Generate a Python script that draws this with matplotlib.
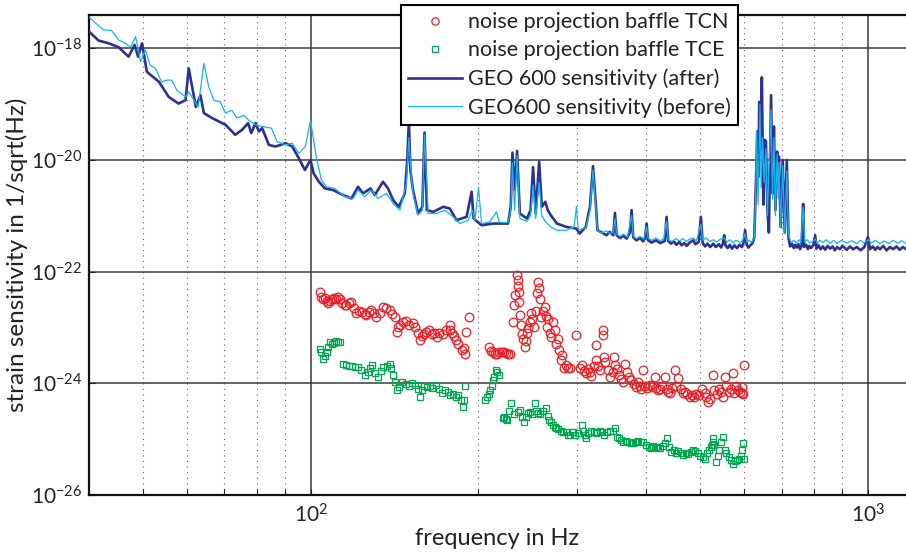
import numpy as np
import matplotlib
matplotlib.use("Agg")
import matplotlib.pyplot as plt
from matplotlib.ticker import FixedLocator, LogFormatterSciNotation, NullFormatter

plt.rcParams['font.family'] = ['Lato', 'DejaVu Sans']
plt.rcParams['mathtext.fontset'] = 'custom'
plt.rcParams['mathtext.rm'] = 'Lato'
plt.rcParams['mathtext.it'] = 'Lato'
plt.rcParams['axes.unicode_minus'] = False

# ---------------- data: (frequency in Hz, log10 of strain sensitivity in 1/sqrt(Hz)) ----------
after_points = [
    (40, -17.70), (41.6, -17.86), (43.4, -17.91), (45.2, -17.98), (47.1, -18.15), (48.3, -17.94),
    (49.0, -18.15), (49.8, -17.91), (50.8, -18.42), (53.4, -18.60), (55.6, -18.87), (57.9, -18.99),
    (59.6, -18.93), (60.4, -18.36), (61.4, -18.75), (62.2, -19.05), (63.4, -18.84), (64.3, -19.16),
    (66.5, -19.25), (70.3, -19.37), (73.2, -19.55), (75.3, -19.46), (77.2, -19.34), (78.2, -19.52),
    (79.6, -19.34), (80.7, -19.49), (81.8, -19.43), (84.1, -19.73), (86.4, -19.76), (90.1, -19.70),
    (92.6, -19.76), (95.2, -19.97), (97.6, -20.18), (99.9, -20.00), (101.2, -20.24), (103.4, -20.39),
    (106, -20.51), (109.7, -20.54), (114.3, -20.63), (118.3, -20.69), (121.6, -20.48), (124.1, -20.60),
    (128, -20.51), (130.3, -20.63), (134.8, -20.39), (137.6, -20.51), (140.6, -20.72), (143.9, -20.84),
    (147.5, -20.60), (149, -20.0), (150, -19.30), (151, -20.2), (152.6, -20.54), (155.8, -20.96),
    (158.6, -20.84), (160, -19.51), (161.6, -20.90), (165.9, -20.93), (172.9, -20.84), (177.6, -20.87),
    (182.6, -21.08), (190.4, -21.02), (194.4, -20.57), (196, -21.05), (202.5, -21.17), (212.5, -21.14),
    (218.3, -21.14), (226, -21.14), (228.5, -20.84), (230.1, -19.87), (232.2, -20.54), (234.6, -19.84),
    (237.3, -20.96), (244.3, -21.05), (248, -20.90), (250.6, -20.13), (253.3, -20.96), (257, -20.03),
    (259.8, -20.84), (263.6, -20.75), (266.3, -20.90), (269.6, -20.99), (276.6, -21.14), (287.6, -21.20),
    (299.7, -21.23), (303.7, -21.32), (311.6, -21.20), (317, -20.84), (321, -20.11), (325, -20.84),
    (327, -21.26), (333, -21.30), (339.2, -21.35), (344, -21.29), (349, -21.35), (351.5, -20.95),
    (354, -21.35), (359, -21.40), (364, -21.36), (369, -21.41), (374, -21.30), (376.5, -20.90),
    (379, -21.38), (384, -21.44), (390, -21.40), (395, -21.46), (398, -21.40), (400.6, -21.14),
    (403, -21.44), (409, -21.48), (416.4, -21.44), (424, -21.49), (432, -21.45), (435, -21.02),
    (438, -21.45), (443, -21.50), (448, -21.46), (453, -21.52), (458.8, -21.47), (463, -21.53),
    (468, -21.49), (473, -21.54), (478.6, -21.48), (485.8, -21.44), (490, -21.51), (497, -21.47),
    (501.3, -21.02), (505, -21.49), (510, -21.55), (515, -21.50), (521, -21.56), (527.7, -21.50),
    (533, -21.56), (540, -21.51), (545, -21.57), (549, -21.50), (552, -21.35), (555, -21.53),
    (560, -21.58), (565, -21.52), (570, -21.59), (576, -21.53), (582, -21.58), (588, -21.52),
    (594, -21.56), (598, -21.48), (602, -21.26), (606, -21.52), (610, -21.57), (615, -21.53),
    (620, -21.50), (625, -21.40), (629, -20.5), (633, -19.49), (636, -20.3), (638, -18.96),
    (641, -19.8), (645, -18.52), (649, -20.8), (653, -19.64), (656, -19.67), (660, -20.9),
    (664, -21.3), (670, -18.84), (674, -20.6), (678, -19.40), (682, -20.9), (687, -19.85),
    (690, -20.5), (692, -19.94), (697, -21.2), (703, -20.00), (709, -21.3), (715, -20.00),
    (720, -21.40), (725, -21.55), (730, -21.50), (736, -21.58), (740, -21.52), (745, -21.57),
    (750, -21.51), (755, -21.60), (760, -21.54), (765, -20.79), (768, -21.56), (775, -21.52),
    (780, -21.60), (785, -21.54), (790, -21.58), (797.6, -21.53), (804, -21.35), (808, -21.59),
    (815, -21.53), (822, -21.60), (830, -21.55), (838, -21.61), (846, -21.54), (855, -21.59),
    (864, -21.55), (872, -21.62), (880, -21.56), (890, -21.60), (900, -21.54), (916, -21.61),
    (928, -21.55), (940, -21.60), (955, -21.56), (970, -21.62), (985, -21.56), (1000, -21.38),
    (1008, -21.60), (1020, -21.55), (1030, -21.61), (1040, -21.56), (1051, -21.60), (1065, -21.54),
    (1080, -21.62), (1095, -21.56), (1110, -21.60), (1125, -21.55), (1140, -21.61), (1155, -21.56),
    (1167, -21.59)]

before_points = [
    (40, -17.44), (41.1, -17.55), (42.5, -17.67), (43.9, -17.68), (45.2, -17.85), (46.5, -17.91),
    (47.5, -17.98), (48.5, -17.79), (49.5, -18.24), (50.5, -18.03), (51.5, -18.30), (52.6, -18.36),
    (54, -18.60), (55.2, -18.57), (56.3, -18.57), (57.5, -18.75), (59.6, -18.87), (60.4, -18.78),
    (61.7, -18.93), (62.8, -19.05), (64.3, -18.27), (65.6, -18.69), (67, -18.93), (68.8, -18.96),
    (70.3, -19.16), (72.2, -19.11), (73.7, -19.25), (75.8, -19.20), (77.4, -19.29), (79.6, -19.37),
    (81.8, -19.40), (85, -19.43), (87, -19.67), (90.1, -19.73), (92.6, -19.70), (95.2, -19.88),
    (97.8, -19.76), (99.9, -19.29), (102.4, -19.97), (104.5, -20.36), (106.7, -20.48), (110.4, -20.51),
    (115.1, -20.66), (119.1, -20.69), (121.6, -20.54), (125, -20.66), (128.5, -20.54), (132, -20.69),
    (136.7, -20.60), (140.6, -20.78), (144.5, -20.90), (148.5, -20.42), (150, -19.60), (151.5, -20.3),
    (153, -20.66), (155.8, -20.99), (158.6, -20.90), (160, -19.55), (162.5, -20.96), (168.2, -20.96),
    (174, -20.90), (180.1, -21.02), (185.2, -21.14), (191.7, -21.08), (195, -20.90), (197, -21.10),
    (200, -20.49), (202.5, -21.14), (209.6, -21.11), (215.4, -20.93), (218, -21.12), (226, -21.12),
    (228.5, -20.9), (230.1, -20.05), (232.2, -20.9), (234.6, -19.92), (237.3, -21.05), (244.3, -21.1),
    (248, -21.0), (250.6, -20.45), (253.3, -21.05), (257, -20.40), (259.8, -21.0), (263.6, -21.1),
    (269.6, -21.2), (276.6, -21.26), (287.6, -21.26), (297, -21.2), (299.7, -20.84), (302, -21.25),
    (311.6, -21.22), (317, -20.9), (321, -20.18), (325, -20.9), (327, -21.26), (333, -21.31),
    (339.2, -21.27), (344, -21.32), (349, -21.30), (351.5, -21.05), (354, -21.33), (359, -21.37),
    (364, -21.33), (370, -21.38), (376.5, -21.00), (379, -21.36), (384, -21.41), (390, -21.37),
    (396, -21.42), (400.6, -21.20), (403, -21.40), (409, -21.44), (416.4, -21.40), (424, -21.45),
    (430, -21.41), (435, -21.10), (438, -21.43), (445, -21.46), (452, -21.41), (458.8, -21.45),
    (466, -21.41), (472, -21.46), (478.6, -21.42), (485.8, -21.40), (492, -21.45), (501.3, -21.15),
    (505, -21.44), (512, -21.40), (520, -21.46), (527.7, -21.43), (535, -21.47), (543, -21.42),
    (552, -21.40), (558, -21.47), (565, -21.43), (573, -21.49), (580, -21.44), (590, -21.48),
    (596, -21.44), (602, -21.32), (606, -21.47), (612, -21.44), (618, -21.48), (625, -21.40),
    (629, -20.6), (631, -19.49), (635, -20.8), (640, -19.00), (643, -20.5), (647, -19.6),
    (651, -20.4), (656, -19.8), (660, -21.0), (664, -20.2), (670, -19.10), (674, -20.7),
    (678, -19.60), (682, -21.0), (687, -19.9), (690, -20.7), (692, -20.05), (697, -21.2),
    (703, -20.10), (709, -21.3), (715, -20.2), (720, -21.35), (728, -21.48), (736, -21.44),
    (745, -21.49), (752, -21.43), (758, -21.48), (765, -20.85), (770, -21.47), (778, -21.43),
    (786, -21.49), (797.6, -21.45), (804, -21.42), (812, -21.49), (820, -21.44), (830, -21.48),
    (842, -21.43), (855, -21.49), (868, -21.44), (880, -21.50), (895, -21.44), (916, -21.49),
    (935, -21.45), (955, -21.50), (970, -21.44), (985, -21.49), (1000, -21.43), (1015, -21.49),
    (1030, -21.44), (1051, -21.50), (1070, -21.45), (1090, -21.50), (1110, -21.44), (1130, -21.49),
    (1150, -21.45), (1167, -21.49)]

tcn_freq = [103.8, 104.5, 105.2, 106, 106.8, 107.5, 108.2, 109, 110, 111, 112, 113, 114, 115,
            115.9, 117, 118.3, 119.5, 120.8, 122, 123.5, 125, 125.9, 127, 128.5, 130, 131.2, 133,
            134.8, 136.5, 138.6, 140, 141.5, 142.6, 143.5, 144.5, 146.4, 148, 150, 152.6, 154,
            155.5, 157, 158.5, 160, 161.3, 163, 165, 166.5, 168.2, 170, 172.9, 175, 177.6, 177.8,
            179.5, 181, 182.5, 184, 186.5, 188, 189.1, 190, 192.5, 209, 210.5, 212, 214, 216, 218,
            220, 222, 224, 226, 228, 231, 232, 233, 234.6, 235, 235.5, 236, 236.5, 237, 238, 239,
            240, 242, 243, 244, 245, 247, 248.5, 250, 252, 253.5, 255, 255.8, 256.5, 258, 259,
            261, 263, 264, 265, 267, 268.5, 270, 272, 274, 276, 278, 279, 281, 283, 285, 287, 289,
            292, 299.8, 304, 306.7, 309, 312, 314, 316.7, 319, 322, 325.6, 325.6, 328, 331, 334.9,
            334.9, 336, 338, 341, 345, 348, 350, 352, 355, 358, 361, 364, 367, 370, 373, 376, 380,
            383.7, 387, 390, 392, 395, 398, 402, 406, 410, 414, 417, 420, 423, 427, 432, 435, 438,
            442, 445, 450, 453, 457, 461, 466, 470, 474, 478.6, 483, 487, 492, 498, 503, 510, 513,
            517, 521, 527.6, 530, 535, 540, 545, 550, 553, 557, 562, 567, 573, 575, 580, 585, 590,
            594, 594, 596, 599]
tcn_log10 = [-22.36, -22.45, -22.50, -22.47, -22.53, -22.56, -22.52, -22.50, -22.47, -22.49,
             -22.45, -22.50, -22.56, -22.60, -22.60, -22.57, -22.54, -22.65, -22.75, -22.70,
             -22.72, -22.76, -22.78, -22.72, -22.68, -22.74, -22.81, -22.75, -22.63, -22.66,
             -22.69, -22.76, -22.81, -23.08, -23.00, -22.95, -22.90, -22.88, -22.95, -22.93,
             -23.00, -23.10, -23.23, -23.15, -23.12, -23.08, -23.05, -23.12, -23.10, -23.17,
             -23.10, -23.11, -23.05, -22.96, -23.04, -23.10, -23.15, -23.23, -23.30, -23.41,
             -23.37, -23.47, -23.08, -22.81, -23.35, -23.42, -23.45, -23.48, -23.47, -23.45,
             -23.44, -23.45, -23.46, -23.48, -23.47, -22.90, -22.60, -22.42, -22.06, -22.15,
             -22.25, -22.36, -22.55, -22.78, -22.95, -23.11, -23.20, -23.35, -23.25, -23.10,
             -23.02, -22.90, -22.75, -22.85, -22.99, -22.70, -22.39, -22.18, -22.30, -22.50,
             -22.81, -22.70, -22.63, -22.80, -22.99, -22.85, -23.10, -23.17, -22.90, -23.05,
             -23.29, -23.20, -23.41, -23.59, -23.50, -23.73, -23.68, -23.73, -23.73, -23.14,
             -23.72, -23.68, -23.78, -23.82, -23.75, -23.80, -23.88, -23.70, -23.32, -23.59,
             -23.70, -23.76, -23.05, -23.14, -23.53, -23.62, -23.76, -23.89, -23.80, -23.53,
             -23.68, -23.75, -23.85, -23.92, -23.98, -23.65, -23.80, -23.89, -23.95, -24.02,
             -24.07, -23.98, -24.05, -24.10, -23.76, -24.05, -24.08, -24.03, -24.06, -23.89,
             -24.08, -24.12, -24.10, -24.05, -23.89, -24.10, -24.15, -24.18, -24.08, -23.76,
             -24.05, -23.91, -24.10, -24.18, -24.15, -24.20, -24.24, -24.22, -24.25, -24.20,
             -24.22, -24.10, -24.18, -24.25, -24.33, -24.28, -23.85, -24.12, -24.20, -24.10,
             -24.15, -24.24, -23.89, -24.05, -24.15, -24.10, -23.82, -24.18, -24.05, -24.12,
             -24.15, -24.07, -24.18, -24.20, -23.68]

tce_freq = [103.8, 104.5, 105.2, 106, 106.8, 107.5, 108.2, 109, 110, 111, 112, 112.7, 114.3, 115.5,
            117, 118.5, 120, 121.6, 123, 125, 126.5, 128, 129, 130.5, 132, 133.5, 135, 137, 138.6,
            139.5, 140.5, 141.5, 142.6, 144, 146, 148, 150, 152, 154, 155.5, 157, 158.5, 160,
            161.5, 163.5, 165, 168, 170, 172, 174, 176, 177.6, 180, 182, 184, 186, 187.7, 188.5,
            189.5, 205.4, 207, 208.5, 210, 211.5, 212.5, 213.5, 214.6, 216, 217.5, 221.4, 222.5,
            224, 225, 227, 228.5, 232, 235, 237.3, 239, 241, 243, 245, 247, 250, 252.6, 254, 256,
            258, 261, 264.7, 266, 268, 270, 272, 274, 276, 278, 281, 284, 287, 290, 292, 295, 298,
            302, 306.7, 308, 310, 312, 315, 318, 322, 325, 327, 330, 333, 336, 340, 345, 348, 351,
            354, 358, 361, 364, 368, 372, 375, 379, 383, 387, 391, 395, 399, 404, 408, 412, 416,
            420, 424, 428, 432, 436, 440, 444, 448, 452, 456, 461, 466, 471, 476, 481, 486, 490,
            495, 500, 505, 510, 514, 518, 522, 524, 526, 528, 530, 533, 537, 540, 544, 549, 553,
            557, 562, 567, 573, 577, 582, 587, 591, 594, 596, 598]
tce_log10 = [-23.38, -23.45, -23.56, -23.52, -23.45, -23.35, -23.26, -23.30, -23.28, -23.24,
             -23.26, -23.26, -23.65, -23.68, -23.70, -23.69, -23.71, -23.71, -23.76, -23.85,
             -23.80, -23.72, -23.68, -23.82, -23.89, -23.78, -23.71, -23.69, -23.65, -23.72,
             -23.85, -23.98, -24.12, -24.06, -23.98, -24.02, -24.05, -24.00, -24.04, -24.10,
             -24.24, -24.12, -24.05, -24.07, -24.05, -24.08, -24.03, -24.10, -24.18, -24.12,
             -24.16, -24.21, -24.20, -24.24, -24.22, -24.30, -24.42, -24.30, -24.05, -24.30,
             -24.25, -24.20, -24.12, -24.05, -23.95, -23.89, -23.76, -23.80, -23.85, -24.63,
             -24.60, -24.65, -24.66, -24.50, -24.36, -24.55, -24.52, -24.48, -24.60, -24.69,
             -24.60, -24.54, -24.52, -24.56, -24.36, -24.50, -24.54, -24.55, -24.50, -24.45,
             -24.58, -24.66, -24.70, -24.75, -24.78, -24.80, -24.82, -24.85, -24.87, -24.88,
             -24.92, -24.93, -24.88, -24.92, -24.90, -24.75, -24.85, -24.92, -24.99, -24.90,
             -24.85, -24.88, -24.90, -24.87, -24.85, -24.88, -24.92, -24.88, -24.85, -24.86,
             -24.81, -24.96, -24.98, -25.02, -25.05, -25.03, -25.06, -25.08, -25.08, -25.06,
             -25.04, -25.05, -25.05, -25.10, -25.14, -25.17, -25.12, -25.15, -25.16, -25.17,
             -25.12, -25.08, -24.99, -25.15, -25.23, -25.20, -25.25, -25.22, -25.26, -25.29,
             -25.25, -25.27, -25.24, -25.20, -25.22, -25.26, -25.30, -25.33, -25.35, -25.25,
             -25.20, -25.15, -25.11, -25.05, -24.99, -25.10, -25.41, -25.30, -25.20, -25.05,
             -24.96, -25.20, -25.25, -25.32, -25.38, -25.44, -25.40, -25.38, -25.35, -25.30,
             -25.20, -25.08, -25.35]

legend_labels = ["noise projection baffle TCN", "noise projection baffle TCE",
                 "GEO 600 sensitivity (after)", "GEO600 sensitivity (before)"]
x_label = "frequency in Hz"
y_label = "strain sensitivity in 1/sqrt(Hz)"
y_major = [1e-26, 1e-24, 1e-22, 1e-20, 1e-18]
x_major = [100, 1000]
x_minor = [50, 60, 70, 80, 90, 200, 300, 400, 500, 600, 700, 800, 900]

# ---------------- figure ----------------
W, H = 906, 559
fig = plt.figure(figsize=(W / 100, H / 100), dpi=100)
left, right, top, bottom = 89, 906, 15, 494.8
ax = fig.add_axes([left / W, 1 - bottom / H, (right - left) / W, (bottom - top) / H])

red = '#ED1C24'
green = '#00A651'
navy = '#2E3192'
cyan = '#14B4EC'

af = np.array(after_points)
bf = np.array(before_points)

h_tcn, = ax.plot(tcn_freq, 10.0 ** np.array(tcn_log10), 'o', ls='none', mfc='none',
                 mec=red, ms=6.2, mew=0.9, zorder=3)
h_tce, = ax.plot(tce_freq, 10.0 ** np.array(tce_log10), 's', ls='none', mfc='none',
                 mec=green, ms=4.8, mew=0.9, zorder=3)
h_after, = ax.plot(af[:, 0], 10.0 ** af[:, 1], '-', color=navy, lw=1.9, zorder=4)
h_before, = ax.plot(bf[:, 0], 10.0 ** bf[:, 1], '-', color=cyan, lw=0.9, zorder=5)

ax.set_xscale('log')
ax.set_yscale('log')
ax.set_xlim(40, 10 ** (2 + (906 - 311) / 557))
ax.set_ylim(1e-26, 10 ** (-18 + (48.3 - 15) / 55.8))

ax.xaxis.set_major_locator(FixedLocator(x_major))
ax.xaxis.set_minor_locator(FixedLocator(x_minor))
ax.xaxis.set_minor_formatter(NullFormatter())
ax.xaxis.set_major_formatter(LogFormatterSciNotation())
ax.yaxis.set_major_locator(FixedLocator(y_major))
ax.yaxis.set_minor_locator(FixedLocator([]))
ax.yaxis.set_major_formatter(LogFormatterSciNotation())

ax.grid(True, which='major', axis='both', color='#3a3a3a', lw=1.1, ls='-', zorder=1)
ax.grid(True, which='minor', axis='x', color='#606060', lw=0.8, ls=(0, (1, 4)), zorder=1)
ax.set_axisbelow(True)

for s in ['left', 'top', 'bottom']:
    ax.spines[s].set_linewidth(1.6)
    ax.spines[s].set_color('#111111')
ax.spines['right'].set_visible(False)

ax.tick_params(which='both', direction='in', length=4, width=0.8, colors='#222222',
               labelsize=15, top=False, right=False)
ax.tick_params(axis='y', pad=5)
ax.tick_params(axis='x', pad=6)

ax.set_xlabel(x_label, fontsize=17, color='#222222', labelpad=1)
ax.set_ylabel(y_label, fontsize=17.5, color='#222222', labelpad=2)

leg = fig.legend([h_tcn, h_tce, h_after, h_before], legend_labels,
                 loc='upper left', bbox_to_anchor=(401 / W, 1 - 5 / H),
                 bbox_transform=fig.transFigure, fontsize=15.5, frameon=True, fancybox=False,
                 borderaxespad=0, borderpad=0.33, labelspacing=0.38, handlelength=2.5,
                 handletextpad=0.3, framealpha=1, markerscale=0.85)
leg.get_frame().set_edgecolor('black')
leg.get_frame().set_linewidth(1.5)
for t in leg.get_texts():
    t.set_color('#222222')

fig.savefig('out.png', dpi=100)
